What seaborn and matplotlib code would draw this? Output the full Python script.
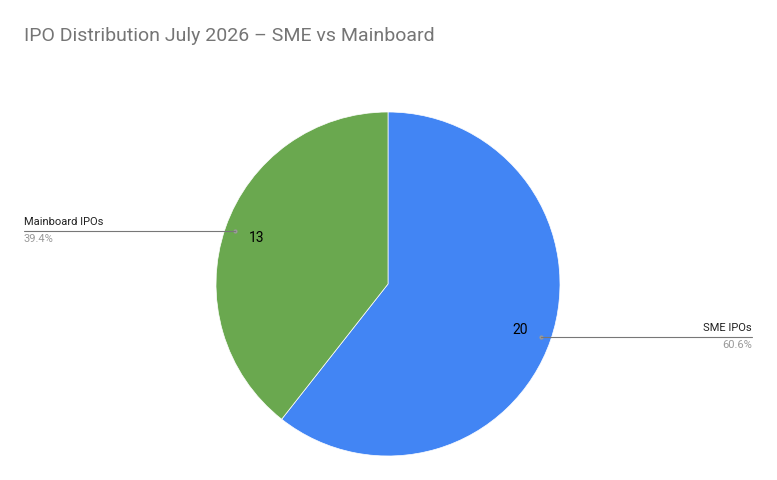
import matplotlib
matplotlib.use("Agg")
import matplotlib.pyplot as plt
import seaborn as sns
import numpy as np

categories = ["SME IPOs", "Mainboard IPOs"]
values = [20, 13]
colors = ["#4285F4", "#6AA84F"]

sns.set_theme(style="white")
plt.rcParams['font.family'] = ['Roboto', 'DejaVu Sans']

fig = plt.figure(figsize=(7.77, 4.8), dpi=100)
ax = fig.add_axes([0, 0, 1, 1])
ax.set_xlim(0, 777); ax.set_ylim(0, 480); ax.set_aspect('equal'); ax.axis('off')

cx, cy, R = 388, 196, 172
ax.pie(values, colors=colors, startangle=90, counterclock=False, radius=R, center=(cx, cy),
       wedgeprops=dict(linewidth=0.5, edgecolor='white'), frame=True)
ax.set_xlim(0, 777); ax.set_ylim(0, 480); ax.axis('off')

total = sum(values)
start = 90
for i, (c, v) in enumerate(zip(categories, values)):
    sweep = v / total * 360
    mid = np.deg2rad(start - sweep / 2)
    start -= sweep
    tx, ty = cx + 0.81 * R * np.cos(mid), cy + 0.81 * R * np.sin(mid)
    ax.text(tx, ty, str(v), ha='center', va='center', fontsize=10, color='black')
    px, py = cx + 0.94 * R * np.cos(mid), cy + 0.94 * R * np.sin(mid)
    ax.plot([px], [py], 'o', ms=2, color='#999999')
    pct = f"{v/total*100:.1f}%"
    if np.cos(mid) > 0:
        ax.plot([px, 752], [py, py], color='#777777', lw=0.8)
        ax.text(752, py + 4, c, ha='right', va='bottom', fontsize=8, color='#222222')
        ax.text(752, py - 3, pct, ha='right', va='top', fontsize=8, color='#999999')
    else:
        ax.plot([24, px], [py, py], color='#777777', lw=0.8)
        ax.text(24, py + 4, c, ha='left', va='bottom', fontsize=8, color='#222222')
        ax.text(24, py - 3, pct, ha='left', va='top', fontsize=8, color='#999999')

ax.text(24, 444, "IPO Distribution July 2026 – SME vs Mainboard", ha='left', va='center',
        fontsize=14, color='#757575')

fig.savefig("out.png", dpi=100)
